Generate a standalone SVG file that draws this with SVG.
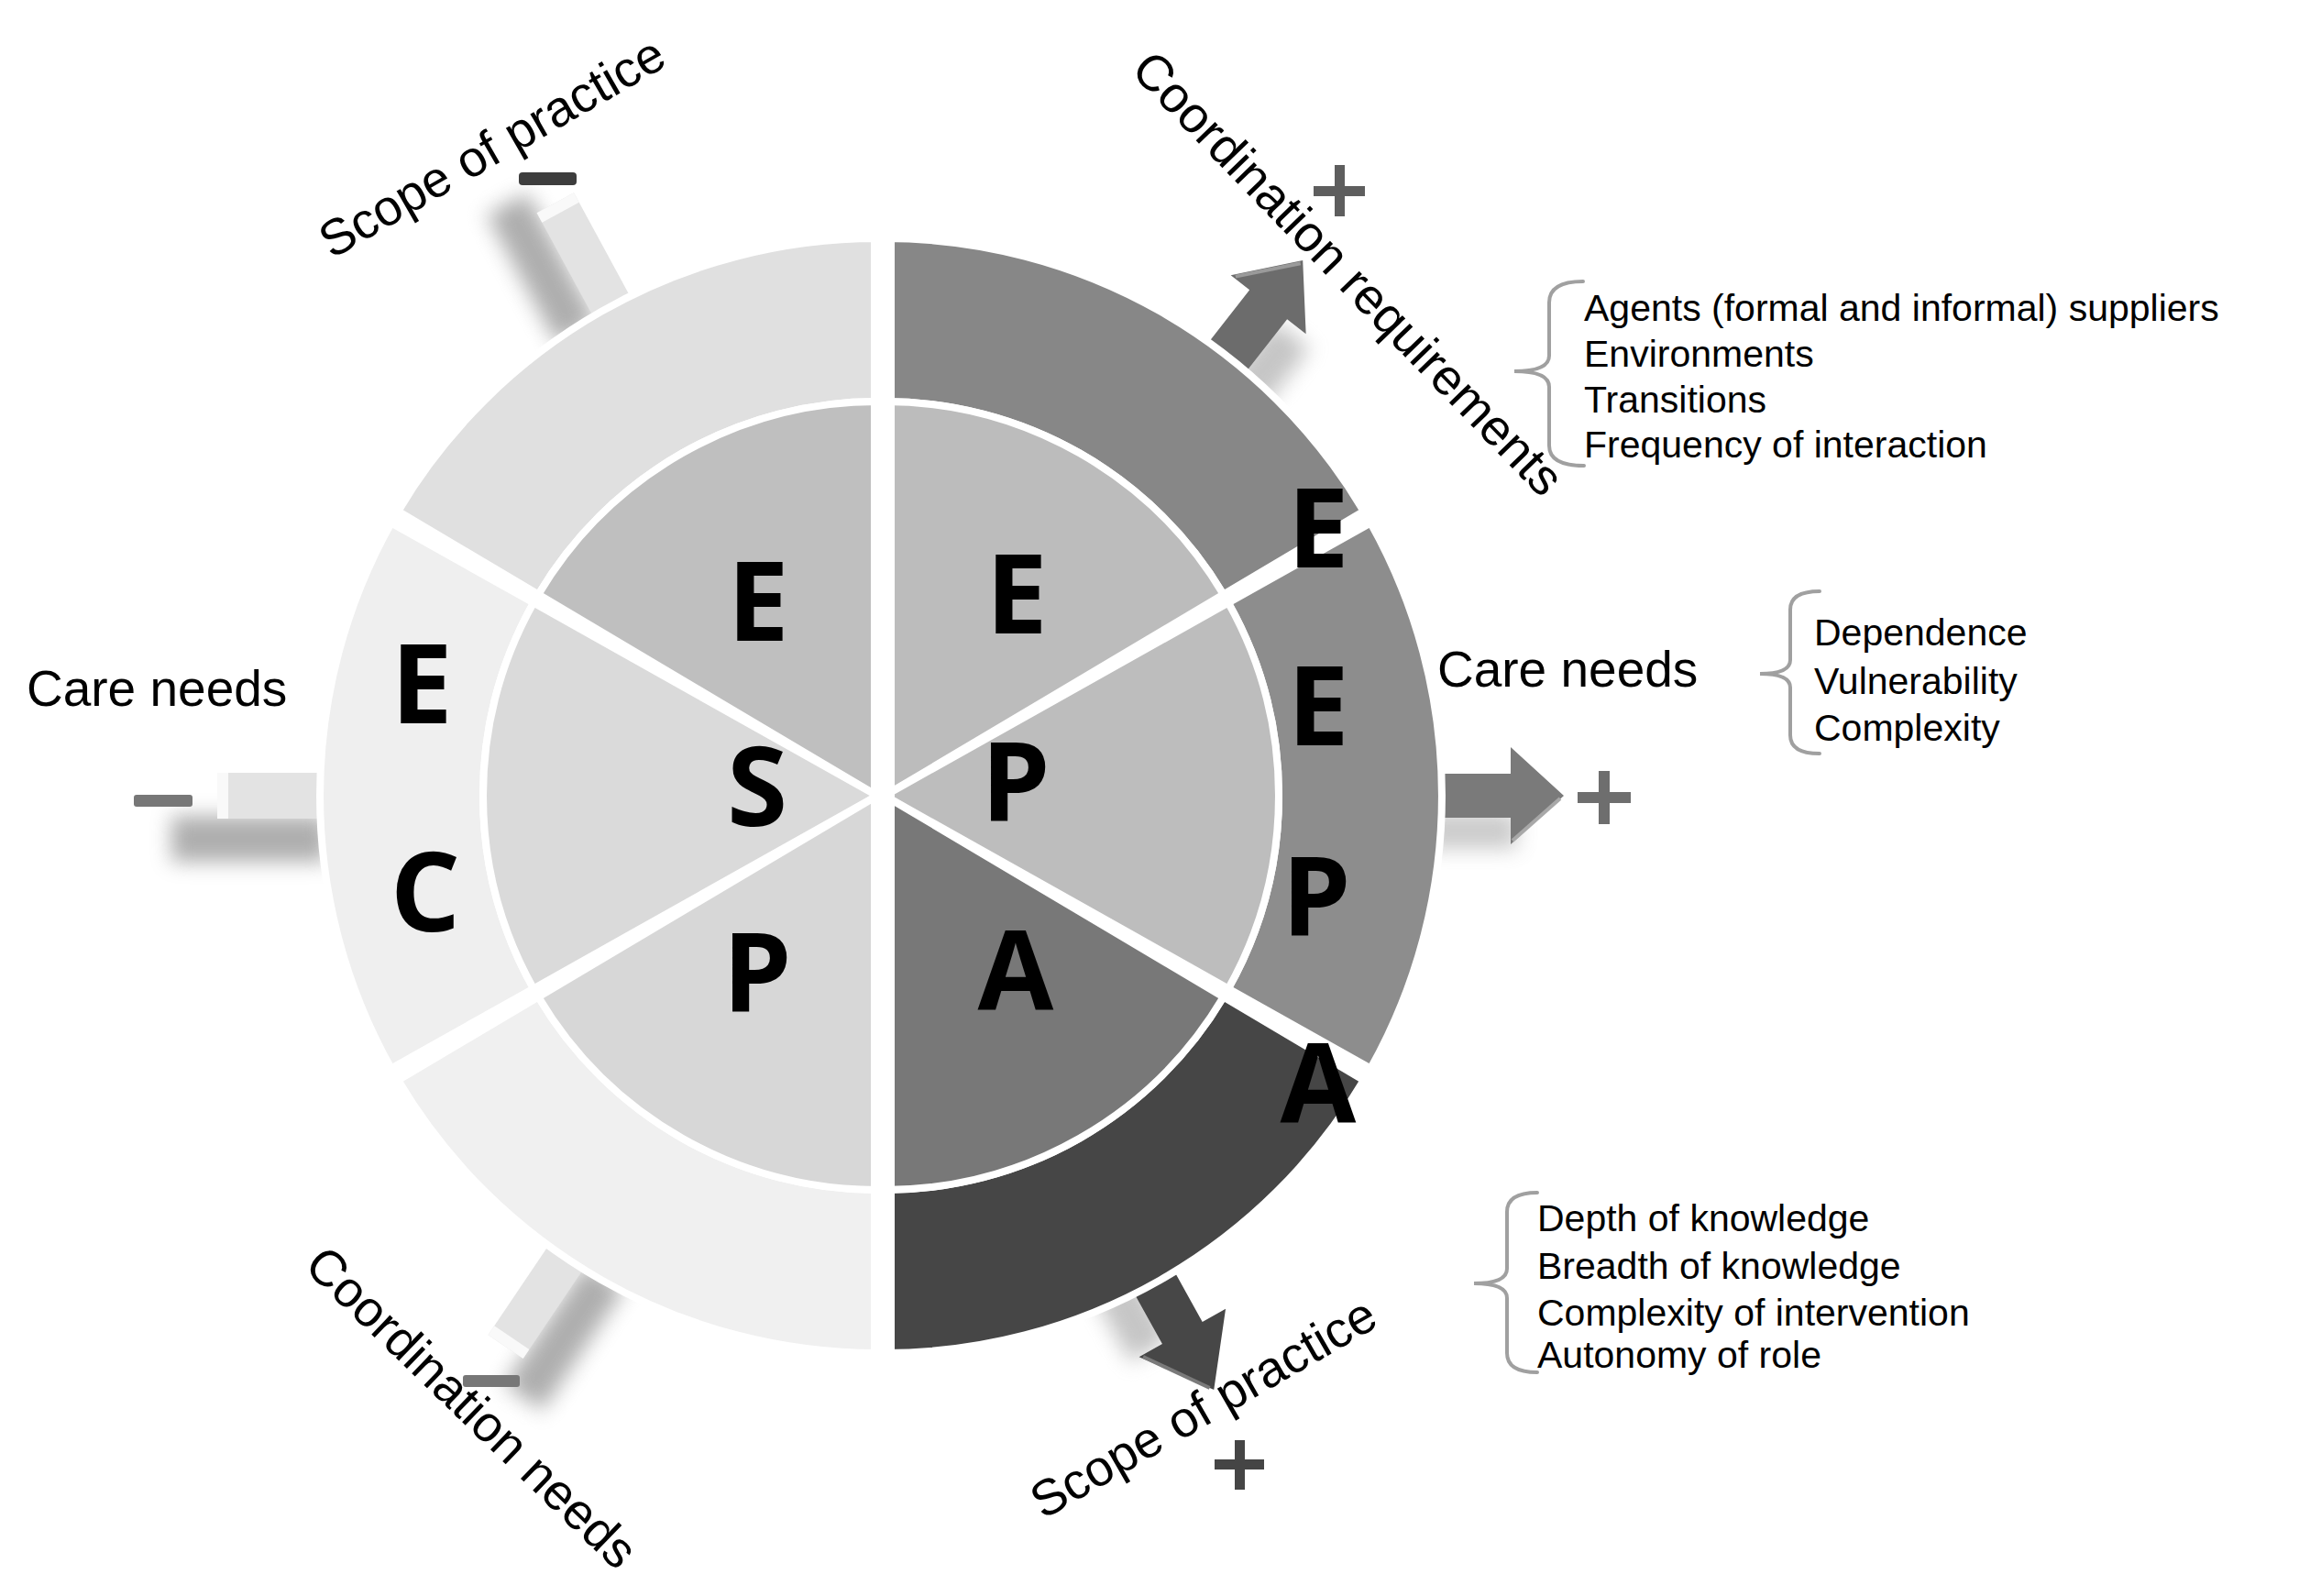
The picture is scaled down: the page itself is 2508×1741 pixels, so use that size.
<svg xmlns="http://www.w3.org/2000/svg" width="2508" height="1741" viewBox="0 0 2508 1741">
<style>
.lbl{font-family:"Liberation Sans",Arial,sans-serif;font-size:55px;fill:#000}
.lst{font-family:"Liberation Sans",Arial,sans-serif;font-size:41px;fill:#000}
.big{font-family:"Open Sans","DejaVu Sans",sans-serif;font-weight:700;font-size:120px;fill:#000;text-anchor:middle}
.seg{stroke:#fff;stroke-width:8;stroke-linejoin:round}
.brace{fill:none;stroke:#a0a0a0;stroke-width:4;stroke-linecap:round}
.shadow{fill:#8c8c8c;filter:url(#blur)}
.stub{fill:#e3e3e3}
.cap{fill:#f9f9f9}
</style>
<defs>
<filter id="blur" x="-60%" y="-60%" width="220%" height="220%"><feGaussianBlur stdDeviation="11"/></filter>
</defs>
<rect width="2508" height="1741" fill="#fff"/>

<g id="connectors">
  <g id="stub-scope-minus" transform="translate(957 868) rotate(-118.5)">
    <rect class="shadow" x="600" y="-72" width="160" height="50" opacity="0.7"/>
    <rect class="stub" x="560" y="-23" width="176" height="46"/>
    <rect class="cap" x="724" y="-23" width="12" height="46"/>
  </g>
  <g id="stub-care-minus" transform="translate(957 868) rotate(180)">
    <rect class="shadow" x="600" y="-72" width="170" height="50" opacity="0.7"/>
    <rect class="stub" x="560" y="-25" width="160" height="50"/>
    <rect class="cap" x="708" y="-25" width="12" height="50"/>
  </g>
  <g id="stub-coord-minus" transform="translate(957 868) rotate(124)">
    <rect class="shadow" x="600" y="-72" width="160" height="50" opacity="0.7"/>
    <rect class="stub" x="560" y="-23" width="165" height="46"/>
    <rect class="cap" x="713" y="-23" width="12" height="46"/>
  </g>
  <g id="arrow-coord-plus" transform="translate(965 868) rotate(-52)">
    <rect class="shadow" x="590" y="15" width="80" height="50" opacity="0.5"/>
    <polygon points="560,-26 680,-26 680,-52 741,0 680,52 680,26 560,26" fill="#6c6c6c"/>
    <polyline points="682,-47 737,0" fill="none" stroke="#9a9a9a" stroke-width="4"/>
  </g>
  <g id="arrow-care-plus" transform="translate(965 868) rotate(0)">
    <rect class="shadow" x="590" y="18" width="100" height="40" opacity="0.45"/>
    <polygon points="560,-24 683,-24 683,-53 741,0 683,53 683,24 560,24" fill="#7a7a7a"/>
    <polyline points="685,49 737,3" fill="none" stroke="#a8a8a8" stroke-width="4"/>
  </g>
  <g id="arrow-scope-plus" transform="translate(965 868) rotate(61)">
    <rect class="shadow" x="590" y="15" width="80" height="50" opacity="0.5"/>
    <polygon points="560,-25 670,-25 670,-54 741,0 670,54 670,25 560,25" fill="#474747"/>
    <polyline points="672,50 737,3" fill="none" stroke="#7a7a7a" stroke-width="4"/>
  </g>
</g>

<g id="wheel">
  <g id="left-half" transform="translate(-8 0)">
    <path id="outer-tl" class="seg" fill="#e0e0e0" d="M965,260 A608,608 0 0 0 442.3,557.6 L595.3,648.5 A430,430 0 0 1 965,438 Z"/>
    <path id="outer-l" class="seg" fill="#efefef" d="M434.8,570.5 A608,608 0 0 0 434.8,1165.5 L590,1078.4 A430,430 0 0 1 590,657.6 Z"/>
    <path id="outer-bl" class="seg" fill="#f0f0f0" d="M442.3,1178.4 A608,608 0 0 0 965,1476 L965,1298 A430,430 0 0 1 595.3,1087.5 Z"/>
    <path id="inner-tl" class="seg" fill="#bfbfbf" d="M965,868 L965,438 A430,430 0 0 0 595.3,648.5 Z"/>
    <path id="inner-l" class="seg" fill="#dadada" d="M965,868 L590,657.6 A430,430 0 0 0 590,1078.4 Z"/>
    <path id="inner-bl" class="seg" fill="#d7d7d7" d="M965,868 L595.3,1087.5 A430,430 0 0 0 965,1298 Z"/>
  </g>
  <g id="right-half">
    <path id="outer-tr" class="seg" fill="#878787" d="M1487.7,557.6 A608,608 0 0 0 965,260 L965,438 A430,430 0 0 1 1334.7,648.5 Z"/>
    <path id="outer-r" class="seg" fill="#8d8d8d" d="M1495.2,1165.5 A608,608 0 0 0 1495.2,570.5 L1340,657.6 A430,430 0 0 1 1340,1078.4 Z"/>
    <path id="outer-br" class="seg" fill="#464646" d="M965,1476 A608,608 0 0 0 1487.7,1178.4 L1334.7,1087.5 A430,430 0 0 1 965,1298 Z"/>
    <path id="inner-tr" class="seg" fill="#bcbcbc" d="M965,868 L1334.7,648.5 A430,430 0 0 0 965,438 Z"/>
    <path id="inner-r" class="seg" fill="#bdbdbd" d="M965,868 L1340,1078.4 A430,430 0 0 0 1340,657.6 Z"/>
    <path id="inner-br" class="seg" fill="#787878" d="M965,868 L965,1298 A430,430 0 0 0 1334.7,1087.5 Z"/>
  </g>
  <rect x="950" y="245" width="26" height="1245" fill="#fff"/>
</g>

<g id="letters">
  <text class="big" x="460" y="789">E</text>
  <text class="big" x="464" y="1016">C</text>
  <text class="big" x="827" y="699">E</text>
  <text class="big" x="826" y="901">S</text>
  <text class="big" x="826" y="1104">P</text>
  <text class="big" x="1109" y="691">E</text>
  <text class="big" x="1108" y="896">P</text>
  <text class="big" x="1108" y="1101">A</text>
  <text class="big" x="1438" y="619">E</text>
  <text class="big" x="1438" y="813">E</text>
  <text class="big" x="1436" y="1021">P</text>
  <text class="big" x="1438" y="1224">A</text>
</g>

<g id="signs">
  <rect id="minus-scope" x="566" y="188" width="63" height="14" rx="4" fill="#3d3d3d"/>
  <rect id="minus-care" x="146" y="867" width="64" height="13" rx="3" fill="#777"/>
  <rect id="minus-coord" x="505" y="1500" width="62" height="13" rx="3" fill="#777"/>
  <g id="plus-coord" fill="#5e5e5e"><rect x="1433" y="203" width="56" height="11"/><rect x="1456" y="180" width="11" height="56"/></g>
  <g id="plus-care" fill="#6e6e6e"><rect x="1721" y="864" width="58" height="12"/><rect x="1744" y="841" width="12" height="58"/></g>
  <g id="plus-scope" fill="#454545"><rect x="1325" y="1592" width="54" height="11"/><rect x="1347" y="1571" width="11" height="54"/></g>
</g>

<g id="labels">
  <text class="lbl" transform="translate(362 283) rotate(-30)">Scope of practice</text>
  <text class="lbl" transform="translate(1232 78) rotate(46)">Coordination requirements</text>
  <text class="lbl" x="1568" y="749">Care needs</text>
  <text class="lbl" x="29" y="770">Care needs</text>
  <text class="lbl" transform="translate(330 1383) rotate(44)">Coordination needs</text>
  <text class="lbl" transform="translate(1138 1658) rotate(-30)">Scope of practice</text>
</g>

<g id="list-coordination">
  <path class="brace" d="M1727,307 Q1690,307 1690,330 L1690,388 Q1690,405 1652,405 Q1690,405 1690,422 L1690,486 Q1690,508 1728,508"/>
  <text class="lst" x="1728" y="350">Agents (formal and informal) suppliers</text>
  <text class="lst" x="1728" y="400">Environments</text>
  <text class="lst" x="1728" y="450">Transitions</text>
  <text class="lst" x="1728" y="499">Frequency of interaction</text>
</g>
<g id="list-care">
  <path class="brace" d="M1985,645 Q1953,645 1953,665 L1953,720 Q1953,735 1920,735 Q1953,735 1953,750 L1953,802 Q1953,822 1985,822"/>
  <text class="lst" x="1979" y="704">Dependence</text>
  <text class="lst" x="1979" y="757">Vulnerability</text>
  <text class="lst" x="1979" y="808">Complexity</text>
</g>
<g id="list-scope">
  <path class="brace" d="M1677,1301 Q1644,1301 1644,1322 L1644,1384 Q1644,1400 1608,1400 Q1644,1400 1644,1416 L1644,1476 Q1644,1497 1677,1497"/>
  <text class="lst" x="1677" y="1343">Depth of knowledge</text>
  <text class="lst" x="1677" y="1395">Breadth of knowledge</text>
  <text class="lst" x="1677" y="1446">Complexity of intervention</text>
  <text class="lst" x="1677" y="1492">Autonomy of role</text>
</g>
</svg>
